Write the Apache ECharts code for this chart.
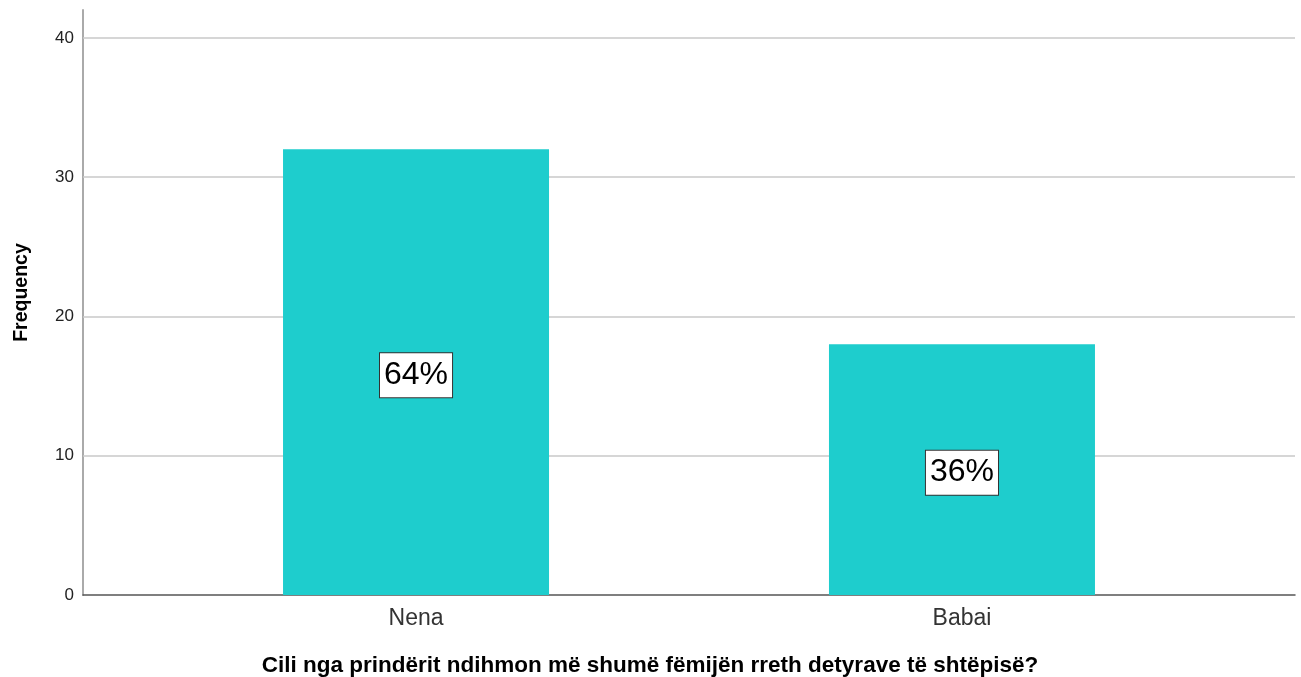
<!DOCTYPE html>
<html>
<head>
<meta charset="utf-8">
<script src="https://cdn.jsdelivr.net/npm/echarts@6/dist/echarts.min.js"></script>
<style>
  html, body { margin: 0; padding: 0; background: #fff; overflow: hidden; }
  #main { width: 1301px; height: 677px; }
</style>
</head>
<body>
<div id="main"></div>
<script>
// data
var categories = ['Nena', 'Babai'];
var frequency = [32, 18];
var percentLabels = ['64%', '36%'];
var gridTicks = [10, 20, 30, 40];

var myChart = echarts.init(document.getElementById('main'));

// bars sit at positions 0 and 1 of a padded value axis
var barData = categories.map(function (c, i) { return [i, frequency[i]]; });

var option = {
    backgroundColor: '#fff',
    animation: false,
    grid: {
        left: 83,
        right: 6,
        top: 10,
        height: 585,
        outerBoundsMode: 'none'
    },
    xAxis: {
        type: 'value',
        min: -0.61,
        max: 1.61,
        name: 'Cili nga prindërit ndihmon më shumë fëmijën rreth detyrave të shtëpisë?',
        nameLocation: 'middle',
        nameGap: 59,
        nameTextStyle: {
            fontFamily: 'Liberation Sans',
            fontSize: 22.5,
            fontWeight: 'bold',
            color: '#000',
            padding: [0, 78, 0, 0]
        },
        splitLine: { show: false },
        axisTick: { show: false },
        axisLine: {
            show: true,
            onZero: false,
            lineStyle: { color: '#555', width: 1.5 }
        },
        axisLabel: {
            customValues: [0, 1],
            fontFamily: 'Liberation Sans',
            fontSize: 23,
            color: '#333',
            margin: 12,
            formatter: function (v) {
                return categories[Math.round(v)];
            }
        }
    },
    yAxis: {
        type: 'value',
        min: 0,
        max: 42,
        interval: 10,
        name: 'Frequency',
        nameLocation: 'middle',
        nameGap: 51,
        nameTextStyle: {
            fontFamily: 'Liberation Sans',
            fontSize: 19.5,
            fontWeight: 'bold',
            color: '#000',
            padding: [0, 0, 0, 20]
        },
        axisLine: {
            show: true,
            onZero: false,
            lineStyle: { color: '#aaa', width: 2 }
        },
        axisTick: { show: false },
        splitLine: { show: false },
        axisLabel: {
            fontFamily: 'Liberation Sans',
            fontSize: 17,
            color: '#222',
            margin: 9,
            formatter: function (v) {
                return v % 10 === 0 ? v : '';
            }
        }
    },
    series: [{
        type: 'bar',
        data: barData,
        barWidth: 266,
        z: 2,
        itemStyle: { color: '#1ecdcd' },
        label: {
            show: true,
            position: 'inside',
            offset: [0, 3],
            formatter: function (p) {
                return percentLabels[p.dataIndex];
            },
            fontFamily: 'Liberation Sans',
            fontSize: 32,
            color: '#000',
            backgroundColor: '#fff',
            borderColor: '#333',
            borderWidth: 1,
            padding: [7, 4, 5, 4]
        },
        markLine: {
            silent: true,
            z: 1,
            symbol: 'none',
            label: { show: false },
            lineStyle: { color: '#c8c8c8', width: 1.5, type: 'solid' },
            data: gridTicks.map(function (t) { return { yAxis: t }; })
        }
    }]
};
myChart.setOption(option);
</script>
</body>
</html>
